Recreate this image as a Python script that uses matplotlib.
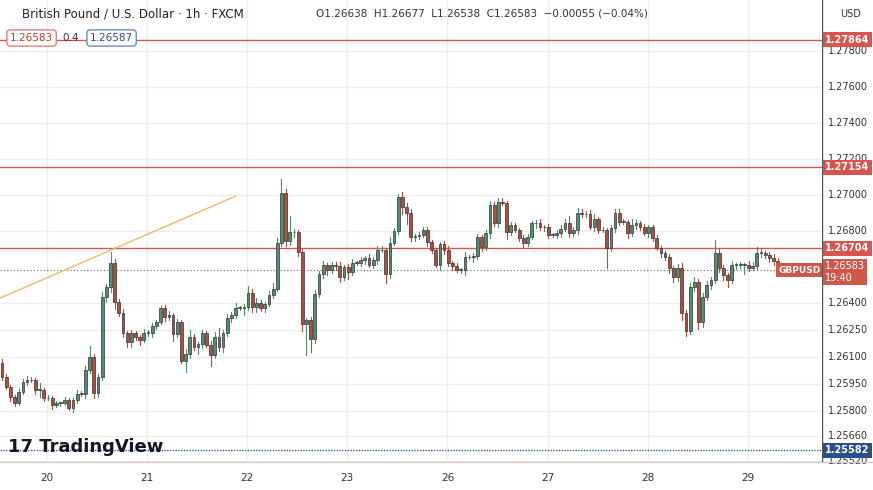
import numpy as np
import matplotlib.pyplot as plt
from matplotlib.patches import Rectangle

# hourly GBPUSD candles
first_open = 1.26066
closes = [1.25988, 1.25932, 1.25877, 1.25844, 1.25905, 1.25960, 1.25971, 1.25971, 1.25916, 1.25916,
          1.25871, 1.25871, 1.25832, 1.25844, 1.25844, 1.25860, 1.25816, 1.25860, 1.25894, 1.25894,
          1.26027, 1.26099, 1.25899, 1.25988, 1.26433, 1.26488, 1.26622, 1.26405, 1.26344, 1.26233,
          1.26183, 1.26233, 1.26210, 1.26194, 1.26233, 1.26233, 1.26272, 1.26294, 1.26372, 1.26322,
          1.26333, 1.26227, 1.26294, 1.26077, 1.26116, 1.26210, 1.26155, 1.26172, 1.26233, 1.26166,
          1.26110, 1.26210, 1.26155, 1.26233, 1.26316, 1.26333, 1.26372, 1.26372, 1.26377, 1.26455,
          1.26377, 1.26400, 1.26372, 1.26394, 1.26444, 1.26477, 1.26733, 1.27011, 1.26744, 1.26794,
          1.26794, 1.26683, 1.26283, 1.26305, 1.26199, 1.26450, 1.26561, 1.26611, 1.26583, 1.26611,
          1.26605, 1.26544, 1.26600, 1.26572, 1.26622, 1.26622, 1.26639, 1.26650, 1.26611, 1.26639,
          1.26694, 1.26694, 1.26561, 1.26733, 1.26800, 1.26989, 1.26933, 1.26900, 1.26766, 1.26772,
          1.26778, 1.26805, 1.26739, 1.26694, 1.26611, 1.26728, 1.26694, 1.26622, 1.26605, 1.26583,
          1.26583, 1.26655, 1.26655, 1.26661, 1.26766, 1.26711, 1.26789, 1.26944, 1.26844, 1.26961,
          1.26956, 1.26794, 1.26833, 1.26805, 1.26761, 1.26733, 1.26766, 1.26844, 1.26844, 1.26822,
          1.26822, 1.26778, 1.26778, 1.26789, 1.26811, 1.26844, 1.26789, 1.26805, 1.26900, 1.26894,
          1.26894, 1.26822, 1.26867, 1.26805, 1.26805, 1.26705, 1.26817, 1.26900, 1.26850, 1.26850,
          1.26789, 1.26833, 1.26844, 1.26822, 1.26789, 1.26822, 1.26761, 1.26705, 1.26678, 1.26655,
          1.26594, 1.26544, 1.26594, 1.26344, 1.26244, 1.26488, 1.26516, 1.26294, 1.26433, 1.26500,
          1.26527, 1.26678, 1.26594, 1.26555, 1.26527, 1.26611, 1.26611, 1.26611, 1.26611, 1.26594,
          1.26605, 1.26678, 1.26678, 1.26666, 1.26650, 1.26633, 1.26583]
# wick lengths beyond the body, in 1e-5 (points)
upper_wick = [20, 15, 10, 12, 15, 20, 25, 15, 10, 40, 10, 15, 10, 12, 8, 15, 10, 12, 20, 15,
              25, 60, 20, 15, 30, 20, 60, 25, 15, 20, 10, 15, 12, 10, 20, 15, 15, 10, 10, 15,
              25, 10, 15, 10, 30, 40, 20, 10, 15, 10, 20, 30, 50, 15, 20, 15, 30, 10, 15, 40,
              20, 25, 15, 10, 20, 35, 30, 80, 20, 90, 15, 10, 15, 10, 15, 20, 15, 20, 10, 15,
              15, 20, 10, 15, 20, 10, 15, 10, 20, 15, 25, 20, 10, 35, 15, 15, 30, 20, 20, 10,
              15, 20, 15, 10, 12, 10, 15, 20, 10, 15, 10, 30, 10, 15, 20, 10, 15, 25, 15, 20,
              25, 10, 15, 12, 10, 15, 20, 10, 15, 20, 10, 15, 10, 15, 20, 25, 40, 15, 30, 25,
              15, 20, 30, 10, 15, 10, 15, 25, 20, 15, 10, 35, 15, 10, 15, 12, 10, 15, 10, 12,
              15, 10, 20, 30, 15, 25, 30, 15, 25, 20, 15, 70, 20, 15, 10, 25, 10, 15, 10, 20,
              25, 35, 30, 10, 15, 20, 15]
lower_wick = [15, 10, 20, 15, 10, 12, 15, 10, 20, 40, 15, 10, 20, 10, 15, 12, 10, 20, 15, 10,
              20, 15, 25, 20, 15, 30, 25, 40, 15, 20, 30, 25, 15, 25, 10, 15, 20, 15, 10, 25,
              15, 40, 15, 10, 60, 20, 15, 40, 20, 10, 60, 15, 20, 30, 15, 20, 15, 10, 40, 15,
              25, 30, 15, 20, 10, 15, 10, 15, 30, 20, 25, 20, 40, 170, 70, 20, 15, 20, 25, 15,
              20, 30, 15, 40, 15, 10, 15, 20, 10, 15, 20, 10, 50, 20, 10, 15, 40, 60, 20, 20,
              15, 10, 25, 15, 10, 30, 20, 15, 20, 10, 15, 25, 10, 30, 15, 20, 15, 30, 15, 20,
              10, 40, 15, 10, 15, 20, 15, 10, 25, 15, 20, 15, 10, 15, 20, 10, 25, 15, 20, 15,
              15, 10, 20, 15, 10, 110, 15, 20, 15, 10, 30, 15, 20, 15, 10, 20, 15, 10, 20, 15,
              25, 30, 20, 40, 30, 15, 20, 40, 25, 15, 20, 15, 20, 25, 40, 15, 20, 15, 50, 15,
              10, 15, 20, 15, 25, 20, 30]

day_labels = ["20", "21", "22", "23", "26", "27", "28", "29"]
day_start_index = [10.8, 34.8, 58.8, 82.8, 106.8, 130.8, 154.8, 178.8]

price_ticks = [1.27800, 1.27600, 1.27400, 1.27200, 1.27000, 1.26800, 1.26400, 1.26250,
               1.26100, 1.25950, 1.25800, 1.25660, 1.25520]
levels = [1.27864, 1.27154, 1.26704]
support = 1.25582
last_price = 1.26583
trend_start = (-0.5, 1.26427)
trend_end = (56.0, 1.26994)

green = '#4e8f70'
red = '#b34c40'
grid_c = '#eeeeee'

W, H = 873, 490
fig = plt.figure(figsize=(W / 100, H / 100), dpi=100)
ax = fig.add_axes([0, 28 / H, 822 / W, 462 / H])
y_top, y_bot = 1.28084, 1.25516
x_lo = -0.5
x_hi = x_lo + 822 / 4.17
ax.set_xlim(x_lo, x_hi)
ax.set_ylim(y_bot, y_top)

opens = [first_open] + closes[:-1]
for i, (o, c, uw, lw) in enumerate(zip(opens, closes, upper_wick, lower_wick)):
    col = green if c >= o else red
    hi = max(o, c) + uw * 1e-5
    lo = min(o, c) - lw * 1e-5
    ax.plot([i, i], [lo, hi], color=col, lw=0.8, zorder=3)
    h = max(abs(c - o), 0.00003)
    ax.add_patch(Rectangle((i - 0.33, min(o, c)), 0.66, h, facecolor=col,
                           edgecolor='#333333', lw=0.5, zorder=4))

# grid
for p in price_ticks:
    ax.axhline(p, color=grid_c, lw=1, zorder=0)
for d in day_start_index:
    ax.axvline(d, color=grid_c, lw=1, zorder=0)

for lv in levels:
    ax.axhline(lv, color='#d9534f', lw=1, zorder=2)
ax.axhline(support, color='#3b5a8a', lw=1, ls=(0, (1, 1)), zorder=2)
ax.axhline(last_price, color='#666666', lw=0.8, ls=(0, (1, 2)), zorder=2)
ax.plot([trend_start[0], trend_end[0]], [trend_start[1], trend_end[1]],
        color='#f0b96a', lw=1, zorder=2)

ax.set_xticks([])
ax.set_yticks([])
for s in ax.spines.values():
    s.set_visible(False)

# right price scale
rax = fig.add_axes([822 / W, 28 / H, 51 / W, 462 / H])
rax.set_xlim(0, 1)
rax.set_ylim(y_bot, y_top)
rax.axis('off')
rax.axvline(0, color='#555555', lw=1)
for p in price_ticks:
    rax.text(0.12, p, f"{p:.5f}", va='center', ha='left', fontsize=7, color='#333333')
for lv in levels:
    rax.text(0.06, lv, f"{lv:.5f}", va='center', ha='left', fontsize=7, color='white',
             fontweight='bold', bbox=dict(boxstyle='square,pad=0.25', fc='#d9534f', ec='none'))
rax.text(0.06, support, f"{support:.5f}", va='center', ha='left', fontsize=7, color='white',
         fontweight='bold', bbox=dict(boxstyle='square,pad=0.25', fc='#2b4f8a', ec='none'))
rax.text(0.06, last_price - 0.00012, f"{last_price:.5f}\n19:40", va='center', ha='left',
         fontsize=7, color='white', linespacing=1.2,
         bbox=dict(boxstyle='square,pad=0.25', fc='#d0584b', ec='none'))
ax.text(x_hi - 0.3, last_price, "GBPUSD", va='center', ha='right', fontsize=6.5, color='white',
        fontweight='bold', bbox=dict(boxstyle='square,pad=0.25', fc='#d0584b', ec='none'), zorder=6)
fig.text(840 / W, 1 - 14 / H, "USD", fontsize=7, va='center', ha='left', color='#333333')

# bottom date axis
fig.add_artist(plt.Line2D([0, 1], [28 / H, 28 / H], color='#cccccc', lw=1))
for lab, d in zip(day_labels, day_start_index):
    xf = (d - x_lo) * 4.17 / W
    fig.text(xf, 12 / H, lab, ha='center', va='center', fontsize=7.5, color='#333333')

# header
fig.text(22 / W, 1 - 14 / H, "British Pound / U.S. Dollar · 1h · FXCM", fontsize=8.5,
         va='center', color='#222222')
fig.text(316 / W, 1 - 14 / H, "O1.26638  H1.26677  L1.26538  C1.26583  −0.00055 (−0.04%)",
         fontsize=7.5, va='center', color='#333333')
fig.text(10 / W, 1 - 38 / H, "1.26583", fontsize=7.5, va='center', color='#c0392b',
         bbox=dict(boxstyle='round,pad=0.3', fc='white', ec='#e08080'))
fig.text(62 / W, 1 - 38 / H, "0.4", fontsize=7.5, va='center', color='#333333')
fig.text(90 / W, 1 - 38 / H, "1.26587", fontsize=7.5, va='center', color='#2b4f8a',
         bbox=dict(boxstyle='round,pad=0.3', fc='white', ec='#6a8cc0'))

fig.text(8 / W, 1 - 447 / H, "17 TradingView", fontsize=13, fontweight='bold',
         va='center', color='#131722')

fig.savefig("out.png", dpi=100)
